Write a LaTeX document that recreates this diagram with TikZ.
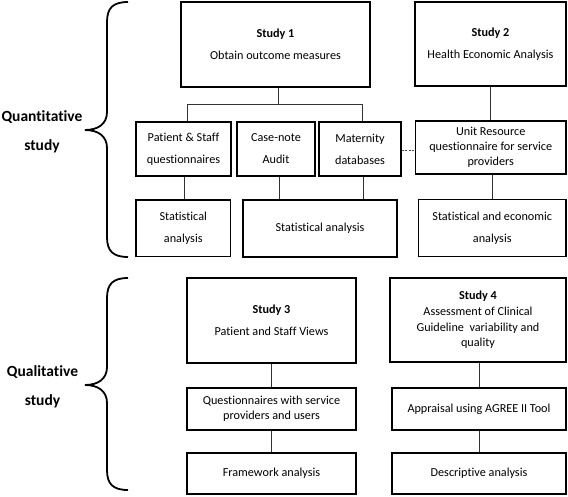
\documentclass[tikz,border=0pt]{standalone}
\usepackage{fontspec}
\setmainfont{Carlito}[Ligatures=NoCommon]
\begin{document}
\begin{tikzpicture}[x=1pt,y=-1pt,
  box/.style={draw, line width=1.1pt, inner sep=0pt, align=center, font=\fontsize{12.2}{22}\selectfont},
  tight/.style={font=\fontsize{12.2}{15}\selectfont},
  conn/.style={draw=black!80, line width=0.8pt},
  dconn/.style={draw=black!70, line width=0.8pt, dash pattern=on 2pt off 1.5pt},
  brace/.style={draw, line width=1.8pt},
  side/.style={font=\fontsize{15.5}{29}\selectfont\bfseries, align=center}]
\useasboundingbox (0,0) rectangle (568,496);

% side labels
\node[side] (quant) at (42,131.5) {Quantitative\\study};
\node[side] (qual) at (42.5,387) {Qualitative\\study};

% braces
\draw[brace] (128,2) .. controls (113,2) and (107,8) .. (107,22) -- (107,112)
  .. controls (107,124) and (98,130) .. (85,130)
  .. controls (98,130) and (107,136) .. (107,148) -- (107,237)
  .. controls (107,251) and (113,257) .. (128,257);
\draw[brace] (128,278) .. controls (113,278) and (107,284) .. (107,298) -- (107,367)
  .. controls (107,379) and (98,385) .. (85,385)
  .. controls (98,385) and (107,391) .. (107,403) -- (107,470)
  .. controls (107,484) and (113,490) .. (128,490);

% quantitative part
\node[box, minimum width=189pt, minimum height=85pt] (s1) at (275.5,44.5) {\textbf{Study 1}\\Obtain outcome measures};
\node[box, minimum width=151pt, minimum height=84pt] (s2) at (490.5,44) {\textbf{Study 2}\\Health Economic Analysis};
\node[box, minimum width=95pt, minimum height=54pt] (pat) at (183.5,149) {Patient \& Staff\\questionnaires};
\node[box, minimum width=78pt, minimum height=54pt] (case) at (276,149) {Case-note\\Audit};
\node[box, minimum width=82pt, minimum height=54pt] (mat) at (360,149) {Maternity\\databases};
\node[box, tight, minimum width=150.5pt, minimum height=53pt] (unit) at (490.75,147.5) {Unit Resource\\questionnaire for service\\providers};
\node[box, minimum width=94.5pt, minimum height=56.5pt] (st1) at (183.25,228.25) {Statistical\\analysis};
\node[box, minimum width=154pt, minimum height=57pt] (st2) at (320,228.5) {Statistical analysis};
\node[box, minimum width=147.5pt, minimum height=57pt] (st3) at (492.25,228) {Statistical and economic\\analysis};

\coordinate (bar) at (0,104);
\coordinate (s1b) at ([xshift=2.8pt]s1.south);
\coordinate (ptop) at ([xshift=3.8pt]pat.north);
\coordinate (mtop) at ([xshift=2.7pt]mat.north);
\draw[conn] (s1b) -- (s1b |- bar);
\draw[conn] (ptop) |- (bar -| mtop) -- (mtop);
\draw[conn] ([xshift=0.8pt]pat.south) -- ([xshift=0.8pt]pat.south |- st1.north);
\draw[conn] ([xshift=3.3pt]case.south) -- ([xshift=3.3pt]case.south |- st2.north);
\draw[conn] ([xshift=3.3pt]mat.south) -- ([xshift=3.3pt]mat.south |- st2.north);
\draw[conn] (s2.south) -- (s2.south |- unit.north);
\draw[conn] ([xshift=1.2pt]unit.south) -- ([xshift=1.2pt]unit.south |- st3.north);
\draw[dconn] ([yshift=-1.8pt]mat.east) -- ([yshift=-1.8pt]mat.east -| unit.west);

% qualitative part
\node[box, minimum width=169pt, minimum height=85pt] (s3) at (271.5,320.5) {\textbf{Study 3}\\Patient and Staff Views};
\node[box, font=\fontsize{12.2}{15.7}\selectfont, minimum width=176pt, minimum height=84pt] (s4) at (478,320) {\textbf{Study 4}\\Assessment of Clinical\\Guideline\ \ variability and\\quality};
\node[box, font=\fontsize{12.2}{14.6}\selectfont, minimum width=169pt, minimum height=42pt] (q3) at (271.5,409) {Questionnaires with service\\providers and users};
\node[box, minimum width=174pt, minimum height=42pt] (q4) at (479,409) {Appraisal using AGREE II Tool};
\node[box, minimum width=169pt, minimum height=41pt] (f3) at (271.5,473.5) {Framework analysis};
\node[box, minimum width=174pt, minimum height=41pt] (f4) at (479,473.5) {Descriptive analysis};

\draw[conn] (s3.south) -- (q3.north);
\draw[conn] (q3.south) -- (f3.north);
\draw[conn] (s4.south -| q4.north) -- (q4.north);
\draw[conn] (q4.south) -- (f4.north);
\end{tikzpicture}
\end{document}
